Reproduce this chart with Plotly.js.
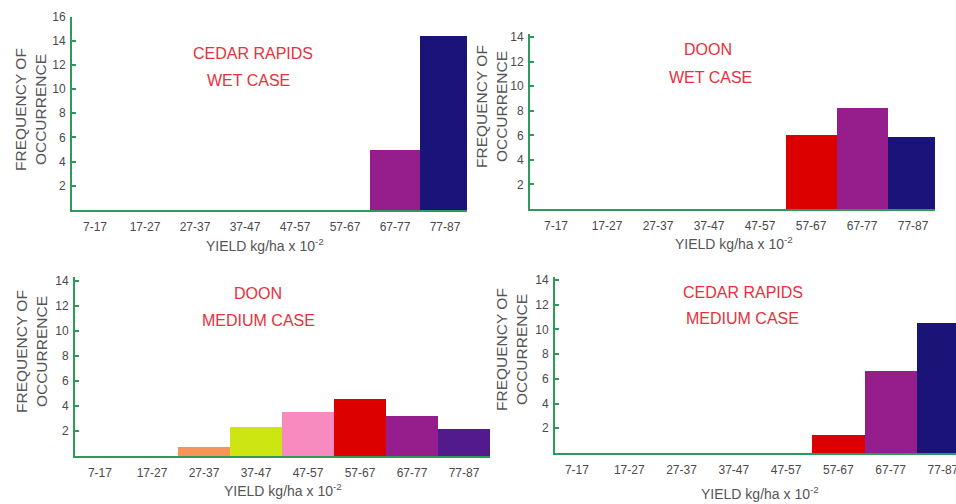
<!DOCTYPE html>
<html>
<head>
<meta charset="utf-8">
<script src="https://cdn.plot.ly/plotly-3.0.1.min.js"></script>
<style>html,body{margin:0;padding:0;background:#fff;}#chart{width:956px;height:504px;}</style>
</head>
<body>
<div id="chart"></div>
<script>
// ---- data ----
var categories = ["7-17","17-27","27-37","37-47","47-57","57-67","67-77","77-87"];
var cedarWet    = [0, 0, 0, 0, 0, 0, 5.0, 14.4];
var doonWet     = [0, 0, 0, 0, 0, 6.0, 8.2, 5.9];
var doonMedium  = [0, 0, 0.7, 2.35, 3.55, 4.55, 3.22, 2.13];
var cedarMedium = [0, 0, 0, 0, 0, 1.47, 6.6, 10.5];
var panelTitles = [
  ["CEDAR RAPIDS", "WET CASE"],
  ["DOON", "WET CASE"],
  ["DOON", "MEDIUM CASE"],
  ["CEDAR RAPIDS", "MEDIUM CASE"]
];
var yTitleLines = ["FREQUENCY OF", "OCCURRENCE"];
var xTitle = "YIELD kg/ha x 10<sup>-2</sup>";

// ---- styles ----
var cOrange = "#f7945a", cLime = "#cde612", cPink = "#f78abe", cRed = "#dc0000",
    cPurple = "#961e8c", cNavy = "#1a1478", cIndigo = "#521a8c";
var colorsCedarWet    = [cNavy, cNavy, cNavy, cNavy, cNavy, cRed, cPurple, cNavy];
var colorsDoonWet     = [cNavy, cNavy, cNavy, cNavy, cNavy, cRed, cPurple, cNavy];
var colorsDoonMedium  = [cOrange, cOrange, cOrange, cLime, cPink, cRed, cPurple, cIndigo];
var colorsCedarMedium = [cNavy, cNavy, cNavy, cNavy, cNavy, cRed, cPurple, cNavy];

var W = 956, H = 504;
function fx(p){ return p / W; }
function fy(p){ return 1 - p / H; }

var FONT = '"Liberation Sans", Arial, sans-serif';
var GREEN = "#2e9a5a";
var GRAY = "#4a4a4a";
var RED_T = "#e8303a";

// panel geometry (pixels): [xLeft, xRight, yTop, yBottom], x range, y range, y ticks
var panels = [
  {vals: cedarWet,    cols: colorsCedarWet,    px: [72, 467, 16.5, 210], xr: [-0.46, 7.44], yr: [0, 16],    ymax: 16,
   t1: [253, 54], t2: [248, 80], yt: [30, 110], xt: [265, 245]},
  {vals: doonWet,     cols: colorsDoonWet,     px: [530, 935, 34, 209],  xr: [-0.51, 7.43], yr: [0, 14.25], ymax: 14,
   t1: [708, 50], t2: [710, 77], yt: [491, 106], xt: [734, 243]},
  {vals: doonMedium,  cols: colorsDoonMedium,  px: [75, 490, 277, 456],  xr: [-0.48, 7.5],  yr: [0, 14.28], ymax: 14,
   t1: [258, 293], t2: [258, 320.5], yt: [31, 352], xt: [283, 490]},
  {vals: cedarMedium, cols: colorsCedarMedium, px: [555, 956, 277, 453], xr: [-0.42, 7.25], yr: [0, 14.24], ymax: 14,
   t1: [743, 292], t2: [742, 318.5], yt: [511, 349], xt: [760, 492.5]}
];

var traces = [];
var layout = {
  width: W, height: H,
  margin: {l: 0, r: 0, t: 0, b: 0, pad: 0},
  paper_bgcolor: "#ffffff", plot_bgcolor: "#ffffff",
  showlegend: false,
  bargap: 0,
  font: {family: FONT, color: GRAY},
  annotations: []
};

panels.forEach(function(p, i){
  var n = i + 1;
  var xa = "x" + (n === 1 ? "" : n), ya = "y" + (n === 1 ? "" : n);
  traces.push({
    type: "bar", x: categories, y: p.vals, xaxis: xa, yaxis: ya,
    marker: {color: p.cols, line: {width: 0}}, width: 1, hoverinfo: "x+y"
  });
  var tv = [];
  for (var v = 2; v <= p.ymax; v += 2) tv.push(v);
  layout["xaxis" + (n === 1 ? "" : n)] = {
    domain: [fx(p.px[0]), fx(p.px[1])], anchor: ya,
    type: "category", range: p.xr,
    showline: true, linecolor: GREEN, linewidth: 2,
    ticks: "", showgrid: false, zeroline: false,
    tickfont: {family: FONT, size: 12, color: GRAY},
    ticklabelstandoff: 5, fixedrange: true
  };
  layout["yaxis" + (n === 1 ? "" : n)] = {
    domain: [fy(p.px[3]), fy(p.px[2])], anchor: xa,
    range: p.yr, tickvals: tv, ticktext: tv.map(String),
    showline: true, linecolor: GREEN, linewidth: 2,
    ticks: "inside", ticklen: 4, tickwidth: 2, tickcolor: GREEN,
    showgrid: false, zeroline: false,
    tickfont: {family: FONT, size: 12, color: GRAY},
    ticklabelstandoff: 2, fixedrange: true
  };
  // red panel titles
  [[panelTitles[i][0], p.t1], [panelTitles[i][1], p.t2]].forEach(function(t){
    layout.annotations.push({
      xref: "paper", yref: "paper", x: fx(t[1][0]), y: fy(t[1][1]),
      xanchor: "center", yanchor: "middle", showarrow: false,
      text: t[0], font: {family: FONT, size: 16, color: RED_T}
    });
  });
  // y axis title (two lines, rotated)
  layout.annotations.push({
    xref: "paper", yref: "paper", x: fx(p.yt[0]), y: fy(p.yt[1]),
    xanchor: "center", yanchor: "middle", showarrow: false, textangle: -90,
    text: yTitleLines.join("<br>"), align: "center",
    font: {family: FONT, size: 15.5, color: "#555555"}
  });
  // x axis title
  layout.annotations.push({
    xref: "paper", yref: "paper", x: fx(p.xt[0]), y: fy(p.xt[1]),
    xanchor: "center", yanchor: "middle", showarrow: false,
    text: xTitle, font: {family: FONT, size: 14, color: "#555555"}
  });
});

Plotly.newPlot("chart", traces, layout, {displayModeBar: false, staticPlot: true});
</script>
</body>
</html>
